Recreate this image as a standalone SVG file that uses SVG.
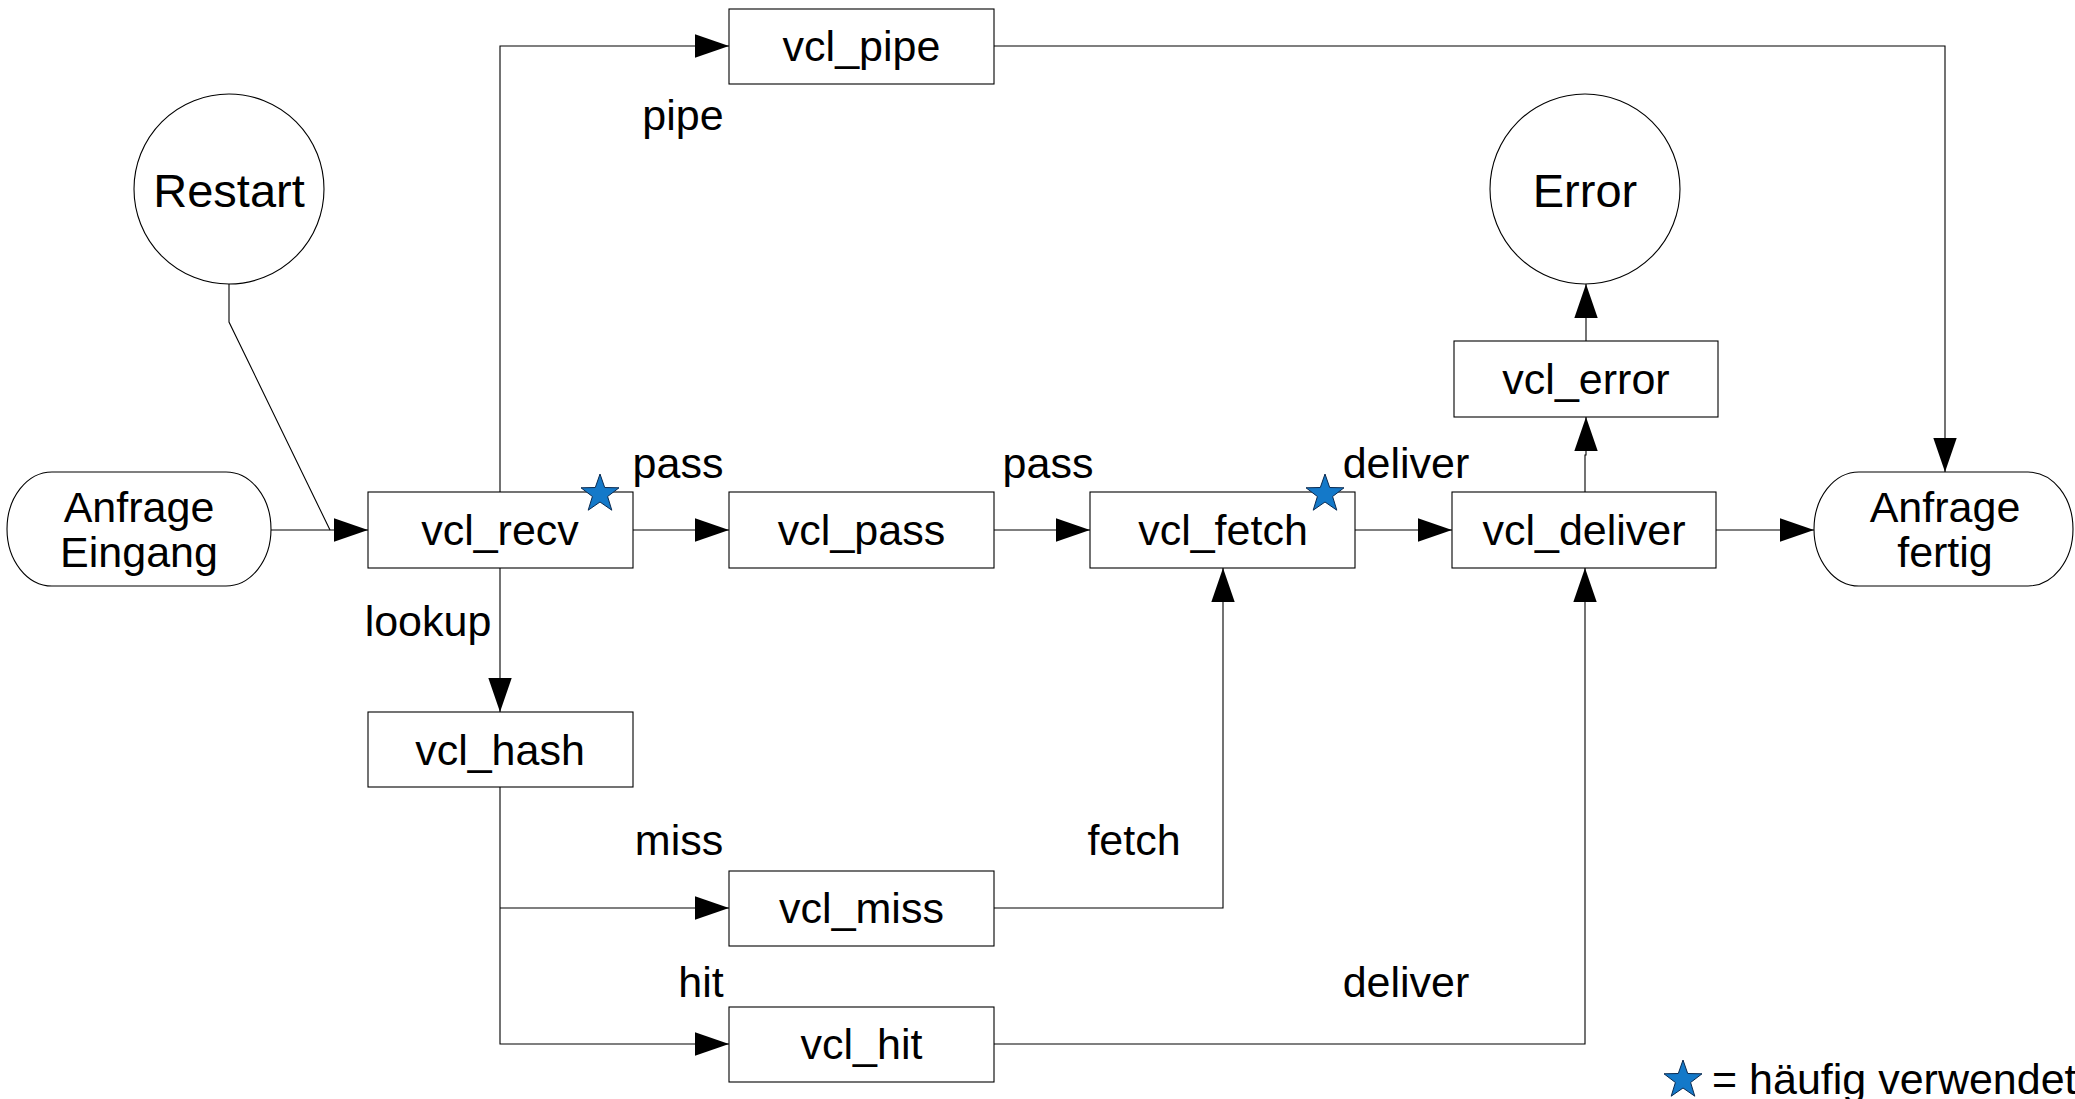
<svg xmlns="http://www.w3.org/2000/svg" width="2075" height="1099" viewBox="0 0 2075 1099">
<style>
.box{fill:#fff;stroke:#000;stroke-width:1.1}
.t{font-family:"Liberation Sans",Arial,sans-serif;font-size:43px;fill:#000;text-anchor:middle}
.tc{font-family:"Liberation Sans",Arial,sans-serif;font-size:47px;fill:#000;text-anchor:middle}
.c{fill:none;stroke:#000;stroke-width:1.1}
.star{fill:#1479c9;stroke:#0a2a50;stroke-width:1}
</style>
<defs>
<marker id="ah" markerUnits="userSpaceOnUse" markerWidth="34" markerHeight="24" refX="32" refY="11" orient="auto" viewBox="0 0 32 22">
<path d="M0,0 L32,11 L0,22 z" fill="#000"/>
</marker>
<polygon id="starShape" points="0,-20 4.7,-6.5 19,-6.2 7.6,2.5 11.8,16.2 0,8 -11.8,16.2 -7.6,2.5 -19,-6.2 -4.7,-6.5"/>
</defs>
<rect width="2075" height="1099" fill="#fff"/>
<g id="connectors">
<path class="c" d="M271,530 H368" marker-end="url(#ah)"/>
<path class="c" d="M229,284 V322 L330,530"/>
<path class="c" d="M500,492 V46 H729" marker-end="url(#ah)"/>
<path class="c" d="M633,530 H729" marker-end="url(#ah)"/>
<path class="c" d="M994,530 H1090" marker-end="url(#ah)"/>
<path class="c" d="M1355,530 H1452" marker-end="url(#ah)"/>
<path class="c" d="M1716,530 H1814" marker-end="url(#ah)"/>
<path class="c" d="M1585,492 V455 H1586 V417" marker-end="url(#ah)"/>
<path class="c" d="M1586,341 V284" marker-end="url(#ah)"/>
<path class="c" d="M994,46 H1945 V472" marker-end="url(#ah)"/>
<path class="c" d="M500,568 V712" marker-end="url(#ah)"/>
<path class="c" d="M500,787 V1044 H729" marker-end="url(#ah)"/>
<path class="c" d="M500,908 H729" marker-end="url(#ah)"/>
<path class="c" d="M994,908 H1223 V568" marker-end="url(#ah)"/>
<path class="c" d="M994,1044 H1585 V568" marker-end="url(#ah)"/>
</g>
<g id="labels">
<text class="t" x="683" y="130">pipe</text>
<text class="t" x="678" y="478">pass</text>
<text class="t" x="1048" y="478">pass</text>
<text class="t" x="1406" y="478">deliver</text>
<text class="t" x="428" y="636">lookup</text>
<text class="t" x="679" y="855">miss</text>
<text class="t" x="1134" y="855">fetch</text>
<text class="t" x="701" y="997">hit</text>
<text class="t" x="1406" y="997">deliver</text>
</g>
<g id="restart"><circle class="box" cx="229" cy="189" r="95"/><text class="tc" x="229" y="207">Restart</text></g>
<g id="error"><circle class="box" cx="1585" cy="189" r="95"/><text class="tc" x="1585" y="207">Error</text></g>
<g id="anfrage_eingang"><rect class="box" x="7" y="472" width="264" height="114" rx="45" ry="57"/><text class="t" x="139" y="522">Anfrage</text><text class="t" x="139" y="567">Eingang</text></g>
<g id="anfrage_fertig"><rect class="box" x="1814" y="472" width="259" height="114" rx="45" ry="57"/><text class="t" x="1945" y="522">Anfrage</text><text class="t" x="1945" y="567">fertig</text></g>
<g id="vcl_pipe"><rect class="box" x="729" y="9" width="265" height="75"/><text class="t" x="861.5" y="61">vcl_pipe</text></g>
<g id="vcl_recv"><rect class="box" x="368" y="492" width="265" height="76"/><text class="t" x="500" y="545">vcl_recv</text><use href="#starShape" class="star" x="600" y="494"/></g>
<g id="vcl_pass"><rect class="box" x="729" y="492" width="265" height="76"/><text class="t" x="861.5" y="545">vcl_pass</text></g>
<g id="vcl_fetch"><rect class="box" x="1090" y="492" width="265" height="76"/><text class="t" x="1223" y="545">vcl_fetch</text><use href="#starShape" class="star" x="1325" y="494"/></g>
<g id="vcl_deliver"><rect class="box" x="1452" y="492" width="264" height="76"/><text class="t" x="1584" y="545">vcl_deliver</text></g>
<g id="vcl_error"><rect class="box" x="1454" y="341" width="264" height="76"/><text class="t" x="1586" y="394">vcl_error</text></g>
<g id="vcl_hash"><rect class="box" x="368" y="712" width="265" height="75"/><text class="t" x="500" y="765">vcl_hash</text></g>
<g id="vcl_miss"><rect class="box" x="729" y="871" width="265" height="75"/><text class="t" x="861.5" y="923">vcl_miss</text></g>
<g id="vcl_hit"><rect class="box" x="729" y="1007" width="265" height="75"/><text class="t" x="861.5" y="1059">vcl_hit</text></g>
<g id="legend"><use href="#starShape" class="star" x="1683" y="1080"/><text class="t" x="1712" y="1094" style="text-anchor:start">= häufig verwendet</text></g>
</svg>
